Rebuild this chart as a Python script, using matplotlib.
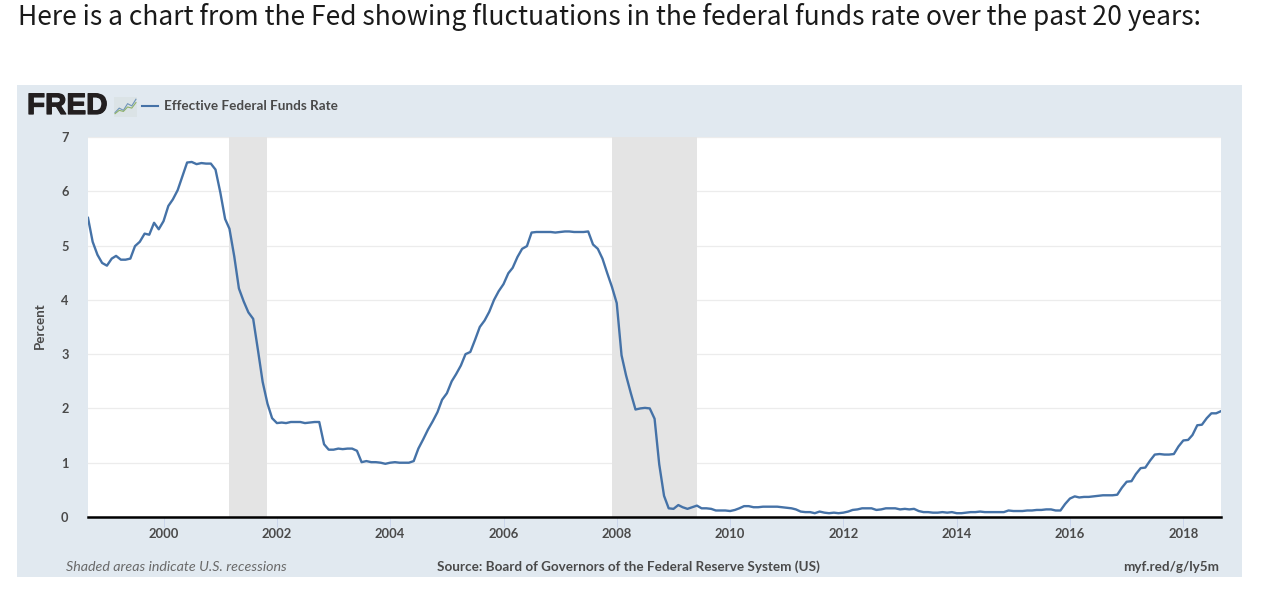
import pandas as pd
import matplotlib
matplotlib.use('Agg')
import matplotlib.pyplot as plt
import matplotlib.patheffects as pe
from matplotlib.patches import Rectangle

W, H = 1274, 591

# monthly effective federal funds rate, Sep 1998 - Sep 2018
rate = [5.51, 5.07, 4.83, 4.68,
        4.63, 4.76, 4.81, 4.74, 4.74, 4.76, 4.99, 5.07, 5.22, 5.20, 5.42, 5.30,
        5.45, 5.73, 5.85, 6.02, 6.27, 6.53, 6.54, 6.50, 6.52, 6.51, 6.51, 6.40,
        5.98, 5.49, 5.31, 4.80, 4.21, 3.97, 3.77, 3.65, 3.07, 2.49, 2.09, 1.82,
        1.73, 1.74, 1.73, 1.75, 1.75, 1.75, 1.73, 1.74, 1.75, 1.75, 1.34, 1.24,
        1.24, 1.26, 1.25, 1.26, 1.26, 1.22, 1.01, 1.03, 1.01, 1.01, 1.00, 0.98,
        1.00, 1.01, 1.00, 1.00, 1.00, 1.03, 1.26, 1.43, 1.61, 1.76, 1.93, 2.16,
        2.28, 2.50, 2.63, 2.79, 3.00, 3.04, 3.26, 3.50, 3.62, 3.78, 4.00, 4.16,
        4.29, 4.49, 4.59, 4.79, 4.94, 4.99, 5.24, 5.25, 5.25, 5.25, 5.25, 5.24,
        5.25, 5.26, 5.26, 5.25, 5.25, 5.25, 5.26, 5.02, 4.94, 4.76, 4.49, 4.24,
        3.94, 2.98, 2.61, 2.28, 1.98, 2.00, 2.01, 2.00, 1.81, 0.97, 0.39, 0.16,
        0.15, 0.22, 0.18, 0.15, 0.18, 0.21, 0.16, 0.16, 0.15, 0.12, 0.12, 0.12,
        0.11, 0.13, 0.16, 0.20, 0.20, 0.18, 0.18, 0.19, 0.19, 0.19, 0.19, 0.18,
        0.17, 0.16, 0.14, 0.10, 0.09, 0.09, 0.07, 0.10, 0.08, 0.07, 0.08, 0.07,
        0.08, 0.10, 0.13, 0.14, 0.16, 0.16, 0.16, 0.13, 0.14, 0.16, 0.16, 0.16,
        0.14, 0.15, 0.14, 0.15, 0.11, 0.09, 0.09, 0.08, 0.08, 0.09, 0.08, 0.09,
        0.07, 0.07, 0.08, 0.09, 0.09, 0.10, 0.09, 0.09, 0.09, 0.09, 0.09, 0.12,
        0.11, 0.11, 0.11, 0.12, 0.12, 0.13, 0.13, 0.14, 0.14, 0.12, 0.12, 0.24,
        0.34, 0.38, 0.36, 0.37, 0.37, 0.38, 0.39, 0.40, 0.40, 0.40, 0.41, 0.54,
        0.65, 0.66, 0.79, 0.90, 0.91, 1.04, 1.15, 1.16, 1.15, 1.15, 1.16, 1.30,
        1.41, 1.42, 1.51, 1.69, 1.70, 1.82, 1.91, 1.91, 1.95]
dates = pd.date_range('1998-09-01', periods=len(rate), freq='MS')

recessions = [('2001-03-01', '2001-11-01'), ('2007-12-01', '2009-06-01')]
year_ticks = [2000, 2002, 2004, 2006, 2008, 2010, 2012, 2014, 2016, 2018]
percent_ticks = [0, 1, 2, 3, 4, 5, 6, 7]

# small sparkline icon beside the logo
icon_blue = [1, 3, 2, 5, 4, 7]
icon_green = [0.5, 2, 1.5, 3.5, 3, 5.5]

title = 'Here is a chart from the Fed showing fluctuations in the federal funds rate over the past 20 years:'
series_name = 'Effective Federal Funds Rate'
note = 'Shaded areas indicate U.S. recessions'
source = 'Source: Board of Governors of the Federal Reserve System (US)'
link = 'myf.red/g/ly5m'

plt.rcParams['font.family'] = ['Lato', 'DejaVu Sans']
TEXT = '#4a4a4a'


def px(x, y):
    """Convert picture pixels (origin top left) to figure fractions."""
    return x / W, 1 - y / H


def box(x0, y0, x1, y1):
    return [x0 / W, 1 - y1 / H, (x1 - x0) / W, (y1 - y0) / H]


fig = plt.figure(figsize=(W / 100, H / 100), dpi=100, facecolor='white')
fig.add_artist(Rectangle((17 / W, 1 - 577 / H), 1225 / W, 492 / H,
                         transform=fig.transFigure, color='#e1e9f0', lw=0, zorder=-1))

ax = fig.add_axes(box(88, 137, 1221, 517))
ax.set_facecolor('white')
ax.plot(dates, rate, color='#4572a7', lw=1.7, solid_joinstyle='round', zorder=3)
for start, end in recessions:
    ax.axvspan(pd.Timestamp(start), pd.Timestamp(end), color='#e4e4e4', lw=0, zorder=2)

ax.set_xlim(dates[0], dates[-1])
ax.set_ylim(0, 7)
ax.set_yticks(percent_ticks)
ax.set_xticks([pd.Timestamp(f'{y}-01-01') for y in year_ticks])
ax.set_xticklabels([str(y) for y in year_ticks], fontsize=9.4, fontweight='bold', color=TEXT)
ax.set_yticklabels([str(v) for v in percent_ticks], fontsize=9.2, fontweight='bold', color=TEXT)
ax.tick_params(axis='x', length=7, width=0.7, color='#ccd6eb', pad=1)
ax.tick_params(axis='y', length=0, pad=14)
ax.grid(axis='y', color='#ececec', lw=0.9, zorder=1)
ax.set_axisbelow(True)
for name in ['top', 'left', 'right']:
    ax.spines[name].set_visible(False)
ax.spines['bottom'].set_color('black')
ax.spines['bottom'].set_linewidth(1.8)
ax.spines['bottom'].set_zorder(4)

fig.text(*px(40, 326), 'Percent', rotation=90, ha='center', va='center',
         fontsize=9.6, fontweight='bold', color=TEXT)

# header
fig.text(*px(18, 17), title, ha='left', va='center', fontsize=19.06,
         family=['Noto Sans CJK SC', 'DejaVu Sans'], color='#1a1a1a')
fig.text(*px(27, 106), 'FRED', ha='left', va='center', fontsize=21.3,
         fontweight='bold', color='#231f20', family=['Liberation Sans', 'DejaVu Sans'],
         path_effects=[pe.withStroke(linewidth=0.9, foreground='#231f20')])

icon = fig.add_axes(box(114, 97, 137, 117))
icon.set_facecolor('#dbe3e6')
icon.plot(icon_blue, color='#6f94b8', lw=0.8)
icon.plot(icon_green, color='#8fb26a', lw=0.8)
icon.set_xticks([])
icon.set_yticks([])
icon.set_ylim(-1, 8)
for spine in icon.spines.values():
    spine.set_visible(False)

fig.add_artist(plt.Line2D([142 / W, 158 / W], [1 - 106 / H] * 2, color='#4572a7', lw=1.5))
fig.text(*px(164, 106), series_name, ha='left', va='center', fontsize=9.7,
         fontweight='bold', color=TEXT)

# footer
fig.text(*px(66, 567), note, ha='left', va='center', fontsize=10.3,
         style='italic', color='#6a6a6a')
fig.text(*px(437, 567), source, ha='left', va='center', fontsize=9.7,
         fontweight='bold', color=TEXT)
fig.text(*px(1219, 567), link, ha='right', va='center', fontsize=9.7,
         fontweight='bold', color=TEXT)

fig.savefig('out.png', dpi=100)
